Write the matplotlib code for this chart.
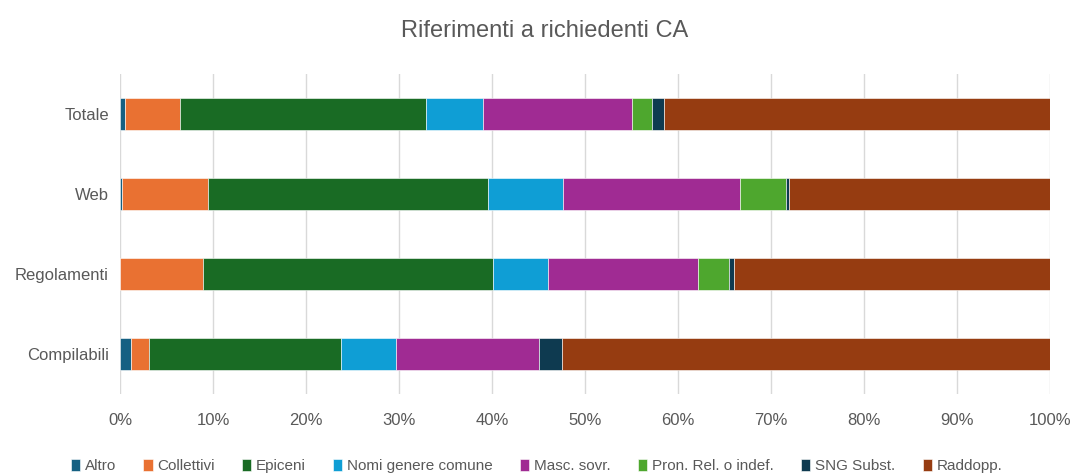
import numpy as np
import matplotlib.pyplot as plt

plt.rcParams['font.family'] = ['Liberation Sans', 'DejaVu Sans']

categories = ['Totale', 'Web', 'Regolamenti', 'Compilabili']
series = ['Altro', 'Collettivi', 'Epiceni', 'Nomi genere comune', 'Masc. sovr.',
          'Pron. Rel. o indef.', 'SNG Subst.', 'Raddopp.']
altro = [0.5, 0.2, 0.0, 1.2]
collettivi = [5.9, 9.3, 8.9, 1.9]
epiceni = [26.5, 30.1, 31.2, 20.7]
nomi = [6.1, 8.0, 5.9, 5.9]
masc = [16.0, 19.1, 16.2, 15.3]
pron = [2.2, 4.9, 3.3, 0.0]
sng = [1.3, 0.3, 0.5, 2.5]
raddopp = [41.5, 28.1, 34.0, 52.5]
colors = ['#156082', '#E97132', '#196B24', '#0F9ED5', '#A02B93', '#4EA72E', '#0E3A50', '#963C11']

data = np.array([altro, collettivi, epiceni, nomi, masc, pron, sng, raddopp])
data = data / data.sum(axis=0) * 100

fig = plt.figure(figsize=(10.73, 4.75), dpi=100)
ax = fig.add_axes([120 / 1073, 1 - 394 / 475, 930 / 1073, 320 / 475])

y = np.arange(len(categories))
left = np.zeros(len(categories))
for name, vals, c in zip(series, data, colors):
    ax.barh(y, vals, left=left, height=0.41, color=c, label=name,
            edgecolor='white', linewidth=0.4)
    left += vals

ax.set_xlim(0, 100)
ax.set_ylim(len(categories) - 0.5, -0.5)
ax.set_yticks(y)
ax.set_yticklabels(categories)
ax.set_xticks(np.arange(0, 101, 10))
ax.set_xticklabels([f'{v}%' for v in range(0, 101, 10)])
ax.tick_params(axis='both', length=0, labelsize=12, colors='#595959')
ax.tick_params(axis='x', pad=14)
ax.tick_params(axis='y', pad=8)
ax.grid(axis='x', color='#d9d9d9', linewidth=1)
ax.set_axisbelow(True)
for s in ax.spines.values():
    s.set_visible(False)

fig.text(0.508, 0.935, 'Riferimenti a richiedenti CA', ha='center', va='center',
         fontsize=17, color='#595959')

fig.legend(loc='lower center', bbox_to_anchor=(0.5, -0.025), ncol=8, frameon=False,
           fontsize=11, handlelength=0.6, handleheight=0.9, handletextpad=0.3,
           columnspacing=1.8, labelcolor='#595959')

fig.savefig('out.png', dpi=100)
